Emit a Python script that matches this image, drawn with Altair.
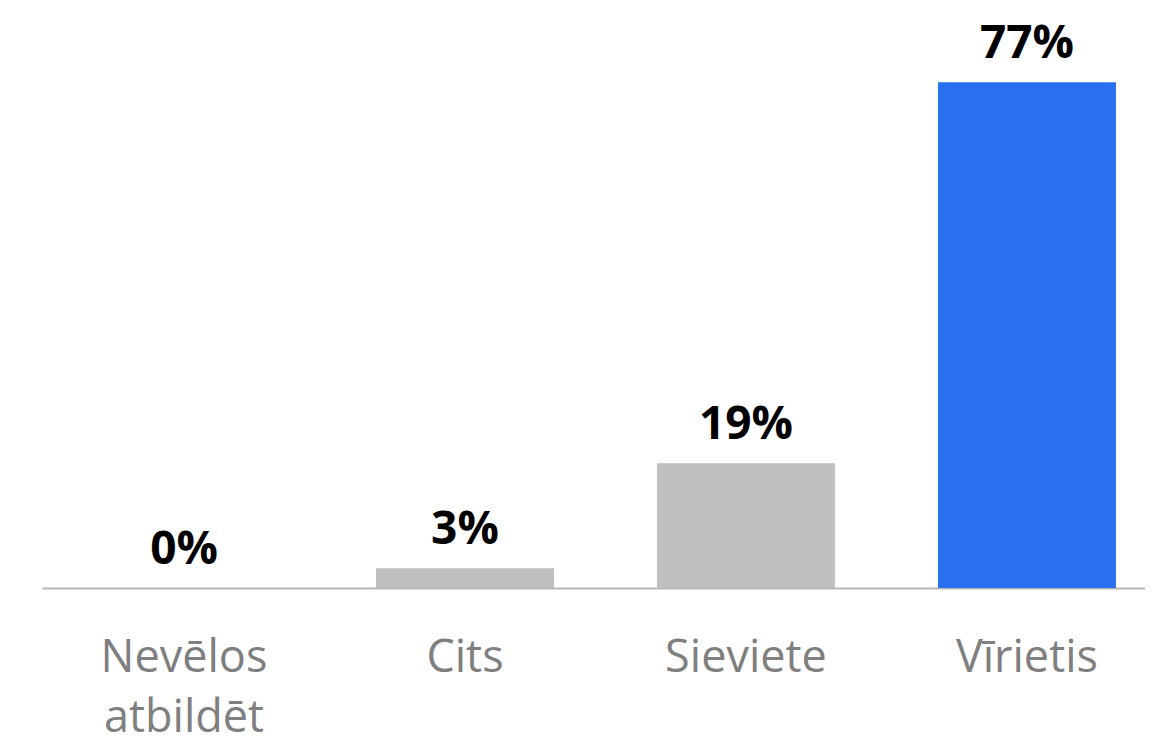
import altair as alt
import pandas as pd

categories = ["Nevēlos atbildēt", "Cits", "Sieviete", "Vīrietis"]
values = [0, 3, 19, 77]
bar_colors = ["#bfbfbf", "#bfbfbf", "#bfbfbf", "#2970f0"]

df = pd.DataFrame({"cat": categories, "value": values})

x = alt.X(
    "cat:N",
    sort=categories,
    title=None,
    scale=alt.Scale(paddingInner=0.3665, paddingOuter=0.146, align=0.646),
    axis=alt.Axis(
        labelAngle=0,
        labelFont="Open Sans",
        labelFontSize=45,
        labelColor="#7f7f7f",
        labelPadding=47,
        labelLineHeight=60,
        labelExpr="datum.label == 'Nevēlos atbildēt' ? ['Nevēlos', 'atbildēt'] : datum.label",
        ticks=False,
        domainColor="#b8b8b8",
        domainWidth=2,
        grid=False,
    ),
)
y = alt.Y("value:Q", scale=alt.Scale(domain=[0, 88.3], nice=False), axis=None)

bars = alt.Chart(df).mark_bar().encode(
    x=x,
    y=y,
    color=alt.Color("cat:N", scale=alt.Scale(domain=categories, range=bar_colors), legend=None),
)

labels = alt.Chart(df).transform_calculate(
    label="datum.value + '%'"
).mark_text(
    font="Open Sans", fontSize=46, fontWeight="bold", color="#000000",
    baseline="alphabetic", dy=-24
).encode(x=x, y=y, text="label:N")

chart = (bars + labels).properties(
    width=1103, height=580,
    padding={"left": 34, "top": 0, "right": 0, "bottom": 160},
    autosize=alt.AutoSizeParams(type="none"),
).configure_view(stroke=None)

chart.save("out.html", embed_options={"renderer": "svg", "actions": False})
